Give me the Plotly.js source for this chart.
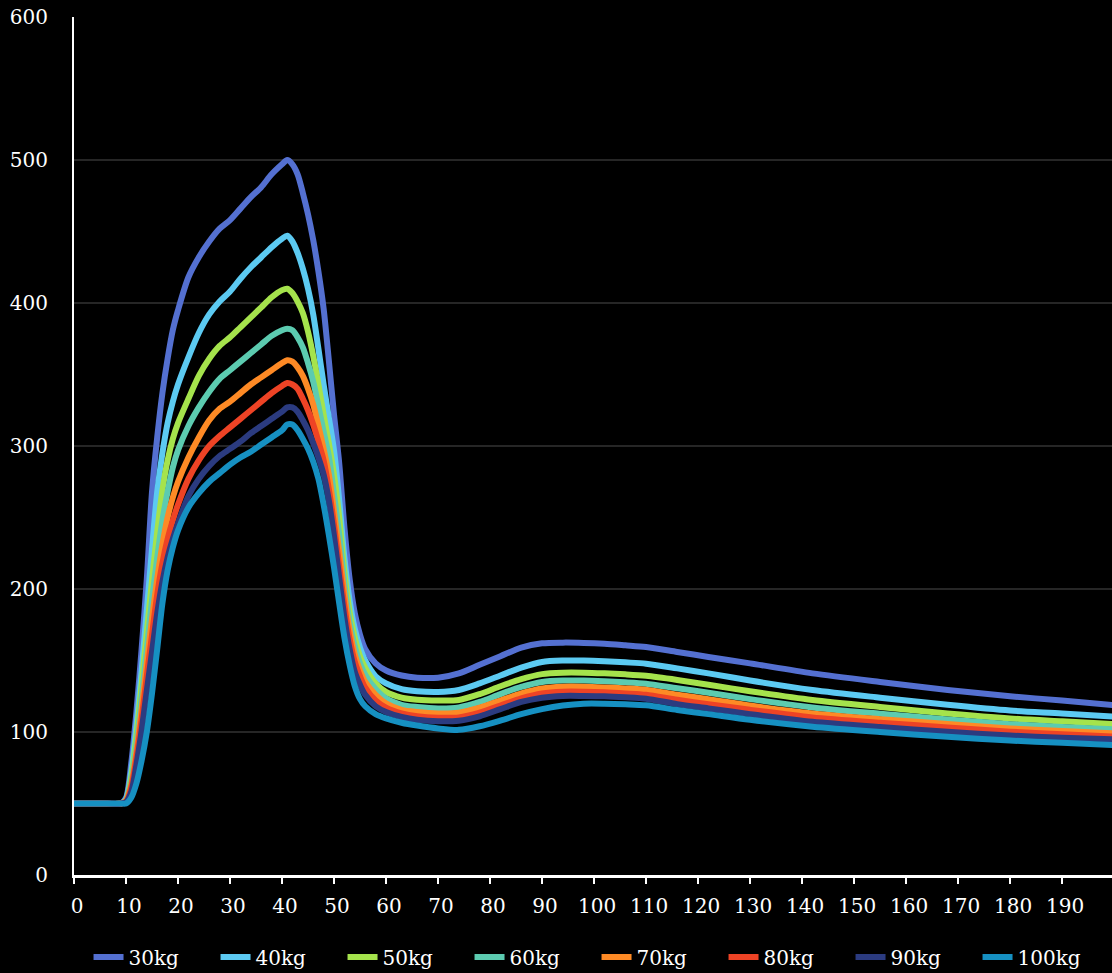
<!DOCTYPE html>
<html>
<head>
<meta charset="utf-8">
<script src="https://cdn.plot.ly/plotly-3.0.1.min.js"></script>
<style>
  html, body { margin: 0; padding: 0; background: #000; }
  #chart { width: 1112px; height: 973px; }
</style>
</head>
<body>
<div id="chart"></div>
<script>
// Shared x positions (time)
const xValues = [0, 5, 9, 10, 11, 12, 13, 14, 15, 16, 17, 18, 19, 20, 22, 24, 26, 28, 30, 32, 34, 36, 38, 40, 41,
  42, 43, 44, 45, 46, 47, 48, 49, 50, 51, 52, 53, 54, 55, 56, 58, 60, 63, 66, 70, 74, 78, 82, 86, 90, 94, 98,
  102, 106, 110, 116, 122, 130, 142, 155, 168, 180, 190, 200];

const seriesNames = ["30kg", "40kg", "50kg", "60kg", "70kg", "80kg", "90kg", "100kg"];

const y30kg = [50, 50, 50, 54, 78, 114, 158, 207, 268, 306, 337, 361, 381, 395, 418, 432, 443, 452, 458, 466, 474, 481, 490, 497, 500,
  497, 490, 477, 462, 444, 422, 396, 360, 322, 288, 243, 207, 183, 168, 158, 148, 143, 139.5, 138, 138, 141, 147, 153, 159, 162, 162.5, 162.3,
  161.7, 160.6, 159.4, 156, 152.5, 148, 141, 135, 129.4, 125, 122, 118.8];

const y40kg = [50, 50, 50, 53, 72, 104, 143, 185, 228, 268, 295, 316, 331, 343, 362, 379, 392, 401, 408, 417, 425, 432, 439, 445, 447,
  443, 435, 424, 410, 392, 368, 343, 320, 297, 262, 222, 192, 172, 159, 150, 139, 134, 130, 128.5, 128, 129.4, 134, 139.5, 145, 149, 150, 150,
  149.5, 148.7, 147.8, 144.5, 141, 136, 129.4, 124, 119, 115, 113, 110.7];

const y50kg = [50, 50, 50, 52, 68, 97, 133, 170, 206, 240, 269, 290, 305, 316, 333, 349, 361, 370, 376, 383, 390, 397, 404, 409, 410,
  407, 401, 393, 380, 363, 343, 322, 302, 280, 250, 212, 184, 166, 153, 145, 134, 128, 124, 122.5, 122, 122.4, 126.5, 132, 137, 140.5, 141.5, 141.5,
  141, 140.3, 139.3, 136.4, 133, 128.5, 122.4, 117.5, 113, 109.5, 107.5, 105.6];

const y60kg = [50, 50, 50, 52, 65, 91, 124, 158, 192, 222, 248, 268, 285, 297, 314, 327, 338, 347, 353, 359, 365, 371, 377, 381, 382,
  381, 376, 369, 358, 345, 328, 310, 293, 266, 238, 204, 177, 160, 148, 140, 130, 123.5, 119, 117.5, 116.5, 117.2, 121, 126.5, 131.5, 135, 136, 136,
  135.5, 134.8, 133.8, 130.6, 127.5, 123, 117.2, 112.8, 108.8, 105.5, 103.5, 101.8];

const y70kg = [50, 50, 50, 52, 63, 86, 116, 148, 179, 207, 231, 250, 264, 275, 292, 306, 318, 326, 331, 337, 343, 348, 353, 358, 360,
  359, 355, 349, 340, 329, 314, 298, 280, 254, 226, 196, 171, 154, 143, 135, 126, 120, 115.5, 114, 113, 113.5, 117, 122, 127, 130.5, 131.7, 131.7,
  131.2, 130.5, 129.5, 126, 123, 118.5, 113, 109, 105.6, 102.5, 100.7, 99];

const y80kg = [50, 50, 50, 51, 61, 82, 109, 139, 168, 196, 218, 235, 248, 259, 277, 290, 300, 307, 313, 319, 325, 331, 337, 342, 344,
  343, 340, 333, 325, 315, 303, 290, 270, 245, 216, 188, 165, 149, 139, 131, 122, 117, 113, 111, 110, 110.2, 113.5, 118.5, 123.5, 127, 128.2, 128.2,
  127.8, 127, 126, 122.5, 119.5, 115.5, 110.2, 106.5, 103.2, 100.2, 98.4, 96.7];

const y90kg = [50, 50, 50, 51, 58, 77, 101, 129, 156, 183, 205, 222, 235, 246, 265, 277, 286, 293, 298, 303, 309, 314, 319, 324, 327,
  327, 324, 318, 311, 302, 292, 280, 262, 237, 208, 180, 158, 142, 133, 126, 118, 114, 110.5, 108.5, 107.5, 107.9, 111, 116, 121, 124, 125.2, 125.2,
  125, 124.3, 123.3, 119.5, 116.5, 112.5, 107.2, 103.5, 100.2, 97.5, 96, 94.8];

const y100kg = [50, 50, 50, 50, 54, 64, 80, 100, 127, 158, 190, 213, 229, 241, 257, 267, 275, 281, 287, 292, 296, 301, 306, 311, 315,
  315, 311, 305, 298, 289, 277, 259, 238, 215, 190, 166, 147, 132, 123, 118, 112.5, 109.5, 106.5, 104.5, 102.5, 101.5, 104, 108, 112.5, 116, 118.5, 119.8,
  119.8, 119.4, 118.7, 115.4, 112.5, 108.5, 103.7, 100, 96.7, 94, 92.5, 90.9];

const seriesValues = [y30kg, y40kg, y50kg, y60kg, y70kg, y80kg, y90kg, y100kg];
const seriesColors = ["#5470d1", "#5ccaf2", "#a5e34c", "#5ccbb0", "#fe8a25", "#ee4325", "#2b3b80", "#1690c2"];

const xTickVals = [0,10,20,30,40,50,60,70,80,90,100,110,120,130,140,150,160,170,180,190];
const yTickVals = [0,100,200,300,400,500,600];

const traces = seriesNames.map((name, i) => ({
  type: "scatter",
  mode: "lines",
  name: name,
  x: xValues,
  y: seriesValues[i],
  line: { color: seriesColors[i], width: 6, shape: "spline", smoothing: 0.8 },
  hoverinfo: "x+y+name"
}));

const font = { family: "DejaVu Serif, Liberation Serif, serif", size: 20, color: "#ffffff" };

const layout = {
  width: 1112,
  height: 973,
  paper_bgcolor: "#000000",
  plot_bgcolor: "#000000",
  font: font,
  margin: { l: 74, r: 0, t: 17, b: 98, pad: 0, autoexpand: false },
  showlegend: true,
  legend: {
    orientation: "h",
    x: 0.014, xanchor: "left",
    y: -0.0956, yanchor: "middle",
    entrywidth: 82,
    entrywidthmode: "pixels",
    font: font,
    bgcolor: "rgba(0,0,0,0)",
    traceorder: "normal"
  },
  xaxis: {
    range: [0, 199.6],
    tickvals: xTickVals,
    ticks: "outside",
    ticklen: 6,
    tickwidth: 2,
    tickcolor: "#ffffff",
    showline: true,
    linecolor: "#ffffff",
    linewidth: 2.5,
    showgrid: false,
    zeroline: false,
    ticklabelstandoff: 5,
    ticklabelshift: 3,
    tickfont: font
  },
  yaxis: {
    range: [0, 600],
    tickvals: yTickVals,
    ticks: "",
    showline: true,
    linecolor: "#ffffff",
    linewidth: 2,
    showgrid: true,
    gridcolor: "#262626",
    gridwidth: 2,
    zeroline: false,
    ticklabelstandoff: 20,
    tickfont: font
  }
};

Plotly.newPlot("chart", traces, layout, { displayModeBar: false, staticPlot: true });
</script>
</body>
</html>
